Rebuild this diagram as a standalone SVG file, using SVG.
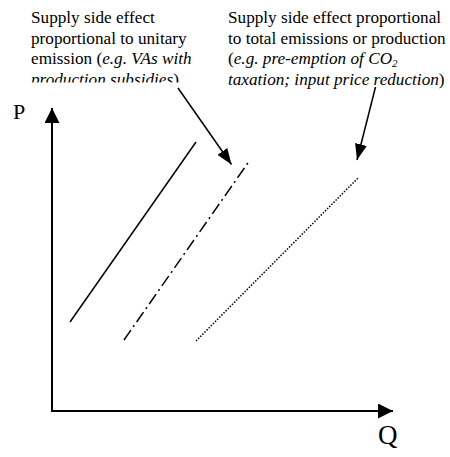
<svg xmlns="http://www.w3.org/2000/svg" width="450" height="457" viewBox="0 0 450 457">
<style>
text{font-family:"Liberation Serif","Times New Roman",serif;fill:#000}
.lbl{font-size:17.2px}
.i{font-style:italic}
.ln{stroke:#000;fill:none}
</style>
<defs>
<marker id="ah" viewBox="0 0 16 12" refX="16" refY="6" markerWidth="16" markerHeight="12" markerUnits="userSpaceOnUse" orient="auto">
<path d="M0,0L16,6L0,12Z" fill="#000"/>
</marker>
<marker id="axh" viewBox="0 0 15 15" refX="15" refY="7.5" markerWidth="15" markerHeight="15" markerUnits="userSpaceOnUse" orient="auto">
<path d="M0,0L15,7.5L0,15Z" fill="#000"/>
</marker>
<clipPath id="clipL"><rect x="0" y="0" width="225" height="82.5"/></clipPath>
</defs>
<rect width="450" height="457" fill="#fff"/>
<g id="label-left" clip-path="url(#clipL)">
<text class="lbl" x="31" y="23">Supply side effect</text>
<text class="lbl" x="31" y="43.7">proportional to unitary</text>
<text class="lbl" x="31" y="64.4">emission (<tspan class="i">e.g. VAs with</tspan></text>
<text class="lbl" x="31" y="85.1"><tspan class="i">production subsidies</tspan>)</text>
</g>
<g id="label-right">
<text class="lbl" x="228" y="23">Supply side effect proportional</text>
<text class="lbl" x="228" y="43.7">to total emissions or production</text>
<text class="lbl" x="228" y="64.4">(<tspan class="i">e.g. pre-emption of CO<tspan font-size="11" dy="3">2</tspan></tspan></text>
<text class="lbl" x="228" y="85.1"><tspan class="i">taxation; input price reduction</tspan>)</text>
</g>
<g id="axes">
<line class="ln" x1="52" y1="411" x2="52" y2="108" stroke-width="2" marker-end="url(#axh)"/>
<line class="ln" x1="51" y1="411" x2="393" y2="411" stroke-width="2" marker-end="url(#axh)"/>
<text x="13" y="119" font-size="22">P</text>
<text x="378" y="444" font-size="27">Q</text>
</g>
<g id="curves">
<line id="supply-original" class="ln" x1="70" y1="322" x2="196" y2="142" stroke-width="1.5"/>
<line id="supply-unitary" class="ln" x1="124" y1="340" x2="250" y2="160" stroke-width="1.5" stroke-dasharray="12 4 2 4"/>
<line id="supply-total" class="ln" x1="196" y1="341" x2="358" y2="178" stroke-width="1.5" stroke-dasharray="1.5 1.5"/>
</g>
<g id="connectors">
<line class="ln" x1="178" y1="88" x2="231.5" y2="164.5" stroke-width="1.5" marker-end="url(#ah)"/>
<line class="ln" x1="375.5" y1="87" x2="357" y2="160" stroke-width="1.5" marker-end="url(#ah)"/>
</g>
</svg>
